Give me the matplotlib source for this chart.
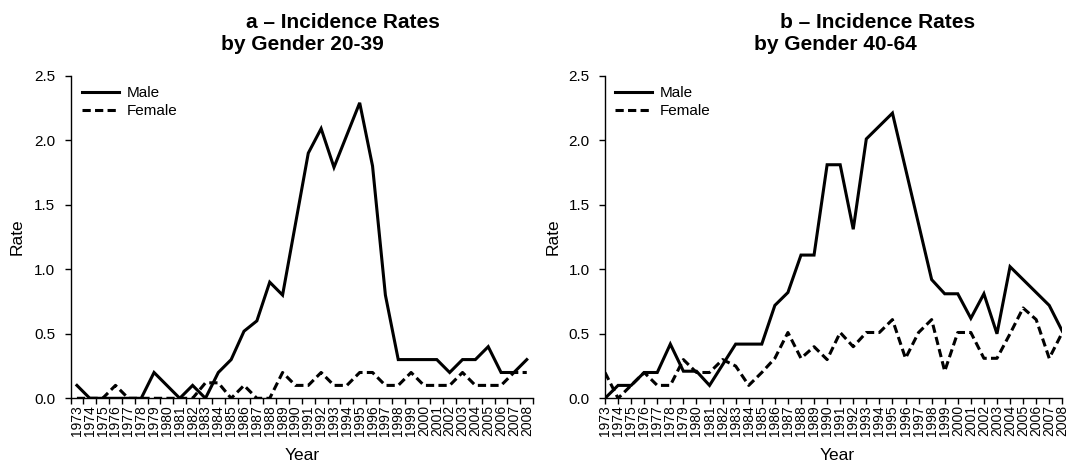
import matplotlib
matplotlib.use('Agg')
import matplotlib.pyplot as plt
from matplotlib.ticker import FixedLocator, NullFormatter

plt.rcParams['font.family'] = ['Liberation Sans', 'DejaVu Sans']

years = list(range(1973, 2009))
year_labels = [str(y) for y in years]

male_a = [0.1, 0, 0, 0, 0, 0, 0.2, 0.1, 0, 0.1, 0, 0.2, 0.3, 0.52, 0.6, 0.9,
          0.8, 1.35, 1.9, 2.09, 1.79, 2.04, 2.29, 1.8, 0.8, 0.3, 0.3, 0.3,
          0.3, 0.2, 0.3, 0.3, 0.4, 0.2, 0.2, 0.3]
female_a = [0, 0, 0, 0.1, 0, 0, 0, 0, 0, 0, 0.12, 0.12, 0, 0.1, 0, 0,
            0.2, 0.1, 0.1, 0.2, 0.1, 0.1, 0.2, 0.2, 0.1, 0.1, 0.2, 0.1,
            0.1, 0.1, 0.2, 0.1, 0.1, 0.1, 0.2, 0.2]
male_b = [0.0, 0.1, 0.1, 0.2, 0.2, 0.42, 0.21, 0.21, 0.1, 0.26, 0.42, 0.42,
          0.42, 0.72, 0.82, 1.11, 1.11, 1.81, 1.81, 1.31, 2.01, 2.11, 2.21,
          1.78, 1.35, 0.92, 0.81, 0.81, 0.62, 0.81, 0.5, 1.02, 0.92, 0.82,
          0.72, 0.52]
female_b = [0.2, 0.0, 0.1, 0.2, 0.1, 0.1, 0.3, 0.2, 0.2, 0.3, 0.25, 0.1,
            0.2, 0.31, 0.51, 0.31, 0.4, 0.3, 0.51, 0.4, 0.51, 0.51, 0.61,
            0.31, 0.51, 0.61, 0.21, 0.51, 0.51, 0.31, 0.31, 0.5, 0.7, 0.61,
            0.31, 0.51]

yticks = [0.0, 0.5, 1.0, 1.5, 2.0, 2.5]
series_labels = ['Male', 'Female']
titles_l1 = ['a \u2013 Incidence Rates', 'b \u2013 Incidence Rates']
titles_l2 = ['by Gender 20-39', 'by Gender 40-64']

W, H = 1069, 470
fig = plt.figure(figsize=(W / 100, H / 100), dpi=100)

def fx(px):
    return px / W

def fy(py):
    return 1 - py / H

y0, y1 = 398.3, 75.7
panels = [
    dict(left=70.5, right=533.2, between=True, male=male_a, female=female_a,
         t1x=343, t2x=302, ylab=17.5, xlab=302, leg=82),
    dict(left=605.0, right=1062.3, between=False, male=male_b, female=female_b,
         t1x=878, t2x=835, ylab=553, xlab=837, leg=615),
]

for k, p in enumerate(panels):
    ax = fig.add_axes([fx(p['left']), fy(y0), fx(p['right'] - p['left']),
                       (y0 - y1) / H])
    idx = list(range(len(years)))
    ax.plot(idx, p['male'], color='black', lw=2.2, solid_joinstyle='miter',
            label=series_labels[0])
    ax.plot(idx, p['female'], color='black', lw=2.2, linestyle=(0, (2.7, 1.4)),
            label=series_labels[1])
    ax.set_ylim(0, 2.5)
    ax.set_yticks(yticks)
    ax.set_yticklabels([f'{v:.1f}' for v in yticks], fontsize=11)
    if p['between']:
        ax.set_xlim(-0.5, len(years) - 0.5)
        ax.set_xticks(idx)
        ax.set_xticklabels(year_labels, rotation=90, fontsize=10)
        ax.tick_params(axis='x', which='major', length=0, pad=5)
        ax.xaxis.set_minor_locator(FixedLocator([i - 0.5 for i in range(len(years) + 1)]))
        ax.xaxis.set_minor_formatter(NullFormatter())
        ax.tick_params(axis='x', which='minor', length=4, width=1, direction='out')
    else:
        ax.set_xlim(0, len(years) - 1)
        ax.set_xticks(idx)
        ax.set_xticklabels(year_labels, rotation=90, fontsize=10)
        ax.tick_params(axis='x', which='major', length=4, width=1, pad=1)
    ax.tick_params(axis='y', length=4, width=1, pad=7, direction='out')
    for s in ['top', 'right']:
        ax.spines[s].set_visible(False)
    for s in ['left', 'bottom']:
        ax.spines[s].set_linewidth(1.0)
    ax.patch.set_visible(False)
    ax.legend(loc='upper left', frameon=False, fontsize=11,
              handlelength=2.4, handletextpad=0.5, labelspacing=0.28,
              borderpad=0, borderaxespad=0,
              bbox_to_anchor=((p['leg'] - p['left']) / (p['right'] - p['left']),
                              1 - (86 - y1) / (y0 - y1)))
    fig.text(fx(p['t1x']), fy(22), titles_l1[k], ha='center', va='center',
             fontsize=15, fontweight='bold')
    fig.text(fx(p['t2x']), fy(45), titles_l2[k], ha='center', va='center',
             fontsize=15, fontweight='bold')
    fig.text(fx(p['ylab']), fy((y0 + y1) / 2), 'Rate', rotation=90,
             ha='center', va='center', fontsize=12.5)
    fig.text(fx(p['xlab']), fy(455), 'Year', ha='center', va='center',
             fontsize=12.5)

fig.savefig('out.png', dpi=100)
